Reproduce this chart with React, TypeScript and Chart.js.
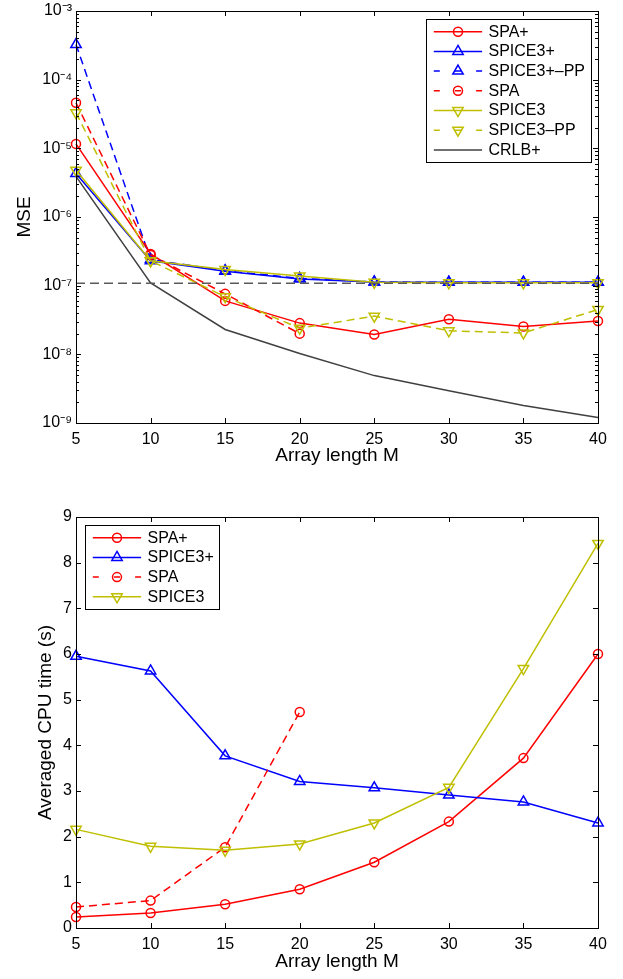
import React, { useEffect, useRef } from "react";
import { Chart, registerables } from "chart.js";
Chart.register(...registerables);

// ---------- data ----------
const arrayLengths = [5, 10, 15, 20, 25, 30, 35, 40];

// top chart: MSE (log scale)
const mseSPAplus = [1.16e-5, 2.9e-7, 6.0e-8, 2.85e-8, 1.95e-8, 3.25e-8, 2.55e-8, 3.05e-8];
const mseSPICE3plus = [4.3e-6, 2.3e-7, 1.62e-7, 1.25e-7, 1.13e-7, 1.12e-7, 1.12e-7, 1.12e-7];
const mseSPICE3plusPP = [3.25e-4, 2.4e-7, 1.65e-7, 1.28e-7, 1.13e-7, 1.12e-7, 1.12e-7, 1.12e-7];
const mseSPA = [4.6e-5, 2.8e-7, 7.6e-8, 2.0e-8];
const mseSPICE3 = [4.8e-6, 2.3e-7, 1.72e-7, 1.38e-7, 1.12e-7, 1.1e-7, 1.1e-7, 1.1e-7];
const mseSPICE3PP = [3.3e-5, 2.3e-7, 6.9e-8, 2.4e-8, 3.6e-8, 2.2e-8, 2.05e-8, 4.5e-8];
const mseCRLBplus = [3.9e-6, 1.1e-7, 2.3e-8, 1.03e-8, 4.9e-9, 2.95e-9, 1.8e-9, 1.2e-9];
const mseReference = [1.08e-7, 1.08e-7, 1.08e-7, 1.08e-7, 1.08e-7, 1.08e-7, 1.08e-7, 1.08e-7];
const mseTickValues = [1e-9, 1e-8, 1e-7, 1e-6, 1e-5, 1e-4, 1e-3];
const mseTickLabels = ["10⁻⁹", "10⁻⁸", "10⁻⁷", "10⁻⁶", "10⁻⁵", "10⁻⁴", "10⁻³"];

// bottom chart: CPU time
const cpuSPAplus = [0.24, 0.33, 0.52, 0.85, 1.44, 2.33, 3.72, 6.0];
const cpuSPICE3plus = [5.95, 5.63, 3.77, 3.21, 3.07, 2.91, 2.76, 2.3];
const cpuSPA = [0.46, 0.6, 1.77, 4.73];
const cpuSPICE3 = [2.16, 1.79, 1.7, 1.84, 2.3, 3.08, 5.68, 8.42];
const cpuTickValues = [0, 1, 2, 3, 4, 5, 6, 7, 8, 9];

// ---------- styles ----------
const RED = "#ff0000";
const BLUE = "#0000ff";
const YEL = "#bfbf00";
const GRAY = "#404040";
const REFGRAY = "#5a5a5a";
const FONT = '"Liberation Sans", Arial, Helvetica, sans-serif';
const DASH = [8, 5];

type Series = {
  label: string;
  data: number[];
  color: string;
  dashed: boolean;
  marker: "circle" | "up" | "down" | null;
  legend: boolean;
  refDash?: boolean;
};

function buildDatasets(series: Series[]) {
  return series.map((s, i) => ({
    label: s.label,
    data: s.data.map((v, j) => ({ x: arrayLengths[j], y: v })),
    borderColor: s.color,
    backgroundColor: s.color,
    borderWidth: 1.5,
    borderDash: s.refDash ? [9, 5] : s.dashed ? DASH : [],
    pointStyle: s.marker === "circle" ? "circle" : "triangle",
    pointRotation: s.marker === "down" ? 180 : 0,
    pointRadius: s.marker ? (s.marker === "circle" ? 4.5 : 6) : 0,
    pointHoverRadius: s.marker ? (s.marker === "circle" ? 4.5 : 6) : 0,
    pointBorderColor: s.color,
    pointBackgroundColor: "rgba(0,0,0,0)",
    pointBorderWidth: 1.5,
    tension: 0,
    fill: false,
    clip: false as any,
    order: -i,
  }));
}

function drawMarker(ctx: CanvasRenderingContext2D, kind: string, x: number, y: number, color: string) {
  ctx.save();
  ctx.setLineDash([]);
  ctx.strokeStyle = color;
  ctx.lineWidth = 1.5;
  ctx.beginPath();
  if (kind === "circle") {
    ctx.arc(x, y, 4.5, 0, Math.PI * 2);
  } else {
    const r = 6;
    const s = kind === "down" ? -1 : 1;
    ctx.moveTo(x, y - s * r);
    ctx.lineTo(x + r * Math.sin((2 * Math.PI) / 3), y + s * r * 0.5);
    ctx.lineTo(x - r * Math.sin((2 * Math.PI) / 3), y + s * r * 0.5);
    ctx.closePath();
  }
  ctx.stroke();
  ctx.restore();
}

function makeFramePlugin(series: Series[], logY: boolean, legendPos: "topright" | "topleft") {
  return {
    id: "frameAndLegend",
    afterDraw(chart: any) {
      const ctx: CanvasRenderingContext2D = chart.ctx;
      const a = chart.chartArea;
      const xs = chart.scales.x;
      const ys = chart.scales.y;
      ctx.save();
      ctx.strokeStyle = "#000";
      ctx.lineWidth = 1;
      ctx.setLineDash([]);
      // box
      ctx.strokeRect(Math.round(a.left) + 0.5, Math.round(a.top) + 0.5, Math.round(a.right - a.left), Math.round(a.bottom - a.top));
      // x ticks
      ctx.beginPath();
      for (const t of xs.ticks) {
        const px = Math.round(xs.getPixelForValue(t.value)) + 0.5;
        ctx.moveTo(px, a.bottom);
        ctx.lineTo(px, a.bottom - 5);
        ctx.moveTo(px, a.top);
        ctx.lineTo(px, a.top + 5);
      }
      // y ticks
      for (const t of ys.ticks) {
        const py = Math.round(ys.getPixelForValue(t.value)) + 0.5;
        ctx.moveTo(a.left, py);
        ctx.lineTo(a.left + 5, py);
        ctx.moveTo(a.right, py);
        ctx.lineTo(a.right - 5, py);
      }
      if (logY) {
        for (let e = -9; e < -3; e++) {
          for (let k = 2; k <= 9; k++) {
            const py = Math.round(ys.getPixelForValue(k * Math.pow(10, e))) + 0.5;
            ctx.moveTo(a.left, py);
            ctx.lineTo(a.left + 3, py);
            ctx.moveTo(a.right, py);
            ctx.lineTo(a.right - 3, py);
          }
        }
      }
      ctx.stroke();

      // legend
      const items = series.filter((s) => s.legend);
      ctx.font = `16px ${FONT}`;
      let maxW = 0;
      for (const it of items) maxW = Math.max(maxW, ctx.measureText(it.label).width);
      const rowH = 19.7;
      const w = 63 + maxW + 5;
      const h = items.length * rowH + 5.5;
      const left = legendPos === "topright" ? a.right - 8 - w : a.left + 8.5;
      const top = a.top + 8;
      ctx.fillStyle = "#fff";
      ctx.fillRect(left, top, w, h);
      ctx.strokeStyle = "#000";
      ctx.lineWidth = 1;
      ctx.strokeRect(Math.round(left) + 0.5, Math.round(top) + 0.5, Math.round(w), Math.round(h));
      items.forEach((it, i) => {
        const cy = top + 12.7 + i * rowH;
        ctx.strokeStyle = it.color;
        ctx.lineWidth = 1.5;
        ctx.beginPath();
        if (it.dashed) {
          const segs = [
            [8.3, 14.3],
            [29.5, 35.5],
            [50.6, 56.6],
          ];
          for (const [s0, s1] of segs) {
            ctx.moveTo(left + s0, cy);
            ctx.lineTo(left + s1, cy);
          }
        } else {
          ctx.moveTo(left + 8.3, cy);
          ctx.lineTo(left + 56.6, cy);
        }
        ctx.stroke();
        if (it.marker) drawMarker(ctx, it.marker, left + 32.5, cy, it.color);
        ctx.fillStyle = "#000";
        ctx.textAlign = "left";
        ctx.textBaseline = "middle";
        ctx.fillText(it.label, left + 63, cy + 0.5);
      });
      ctx.restore();
    },
  };
}

type PanelProps = {
  width: number;
  height: number;
  series: Series[];
  logY: boolean;
  yTitle: string;
  yTitlePad: number;
  xTitlePad: number;
  plotTop: number;
  plotBottom: number;
  legendPos: "topright" | "topleft";
};

function Panel(p: PanelProps) {
  const ref = useRef<HTMLCanvasElement | null>(null);
  useEffect(() => {
    if (!ref.current) return;
    const tickFont = { family: FONT, size: 16 };
    const titleFont = { family: FONT, size: 19 };
    const chart = new Chart(ref.current, {
      type: "line",
      data: { datasets: buildDatasets(p.series) as any },
      options: {
        animation: false,
        responsive: false,
        devicePixelRatio: 1,
        layout: { padding: { left: 0, right: p.width - 598, top: p.plotTop, bottom: 0 } },
        plugins: { legend: { display: false }, tooltip: { enabled: false } },
        events: [],
        scales: {
          x: {
            type: "linear",
            min: 5,
            max: 40,
            grid: { display: false, drawTicks: false },
            border: { display: false },
            afterBuildTicks: (s: any) => {
              s.ticks = arrayLengths.map((v) => ({ value: v }));
            },
            afterFit: (s: any) => {
              s.height = p.height - p.plotBottom;
              s.paddingLeft = 0;
              s.paddingRight = 0;
            },
            ticks: {
              color: "#000",
              font: tickFont,
              padding: 7,
              maxRotation: 0,
              autoSkip: false,
              callback: (v: any) => String(v),
            },
            title: {
              display: true,
              text: "Array length M",
              color: "#000",
              font: titleFont,
              padding: { top: 0, bottom: p.xTitlePad },
            },
          },
          y: p.logY
            ? {
                type: "logarithmic",
                min: 1e-9,
                max: 1e-3,
                grid: { display: false, drawTicks: false },
                border: { display: false },
                afterBuildTicks: (s: any) => {
                  s.ticks = mseTickValues.map((v) => ({ value: v }));
                },
                afterFit: (s: any) => {
                  s.width = 76;
                  s.paddingTop = 0;
                  s.paddingBottom = 0;
                },
                ticks: {
                  color: "#000",
                  font: tickFont,
                  padding: 4,
                  autoSkip: false,
                  callback: (v: any) => {
                    const idx = mseTickValues.findIndex((t) => Math.abs(Math.log10(t) - Math.log10(v)) < 1e-6);
                    return idx >= 0 ? mseTickLabels[idx] : "";
                  },
                },
                title: {
                  display: true,
                  text: p.yTitle,
                  color: "#000",
                  font: titleFont,
                  padding: { top: p.yTitlePad, bottom: 0 },
                },
              }
            : {
                type: "linear",
                min: 0,
                max: 9,
                grid: { display: false, drawTicks: false },
                border: { display: false },
                afterBuildTicks: (s: any) => {
                  s.ticks = cpuTickValues.map((v) => ({ value: v }));
                },
                afterFit: (s: any) => {
                  s.width = 76;
                  s.paddingTop = 0;
                  s.paddingBottom = 0;
                },
                ticks: {
                  color: "#000",
                  font: tickFont,
                  padding: 4,
                  autoSkip: false,
                  callback: (v: any) => String(v),
                },
                title: {
                  display: true,
                  text: p.yTitle,
                  color: "#000",
                  font: titleFont,
                  padding: { top: p.yTitlePad, bottom: 0 },
                },
              },
        },
      } as any,
      plugins: [makeFramePlugin(p.series, p.logY, p.legendPos) as any],
    });
    return () => chart.destroy();
  }, []);
  return <canvas ref={ref} width={p.width} height={p.height} style={{ display: "block", width: p.width, height: p.height }} />;
}

const topSeries: Series[] = [
  { label: "SPA+", data: mseSPAplus, color: RED, dashed: false, marker: "circle", legend: true },
  { label: "SPICE3+", data: mseSPICE3plus, color: BLUE, dashed: false, marker: "up", legend: true },
  { label: "SPICE3+–PP", data: mseSPICE3plusPP, color: BLUE, dashed: true, marker: "up", legend: true },
  { label: "SPA", data: mseSPA, color: RED, dashed: true, marker: "circle", legend: true },
  { label: "SPICE3", data: mseSPICE3, color: YEL, dashed: false, marker: "down", legend: true },
  { label: "SPICE3–PP", data: mseSPICE3PP, color: YEL, dashed: true, marker: "down", legend: true },
  { label: "CRLB+", data: mseCRLBplus, color: GRAY, dashed: false, marker: null, legend: true },
  { label: "reference", data: mseReference, color: REFGRAY, dashed: true, marker: null, legend: false, refDash: true },
];

const bottomSeries: Series[] = [
  { label: "SPA+", data: cpuSPAplus, color: RED, dashed: false, marker: "circle", legend: true },
  { label: "SPICE3+", data: cpuSPICE3plus, color: BLUE, dashed: false, marker: "up", legend: true },
  { label: "SPA", data: cpuSPA, color: RED, dashed: true, marker: "circle", legend: true },
  { label: "SPICE3", data: cpuSPICE3, color: YEL, dashed: false, marker: "down", legend: true },
];

export default function App() {
  return (
    <div style={{ position: "absolute", left: 0, top: 0, width: 623, height: 979, background: "#fff" }}>
      <div style={{ position: "absolute", left: 0, top: 0 }}>
        <Panel
          width={623}
          height={470}
          series={topSeries}
          logY={true}
          yTitle="MSE"
          yTitlePad={13}
          xTitlePad={2.6}
          plotTop={11}
          plotBottom={423}
          legendPos="topright"
        />
      </div>
      <div style={{ position: "absolute", left: 0, top: 470 }}>
        <Panel
          width={623}
          height={509}
          series={bottomSeries}
          logY={false}
          yTitle="Averaged CPU time (s)"
          yTitlePad={34}
          xTitlePad={6.2}
          plotTop={47}
          plotBottom={458}
          legendPos="topleft"
        />
      </div>
    </div>
  );
}
